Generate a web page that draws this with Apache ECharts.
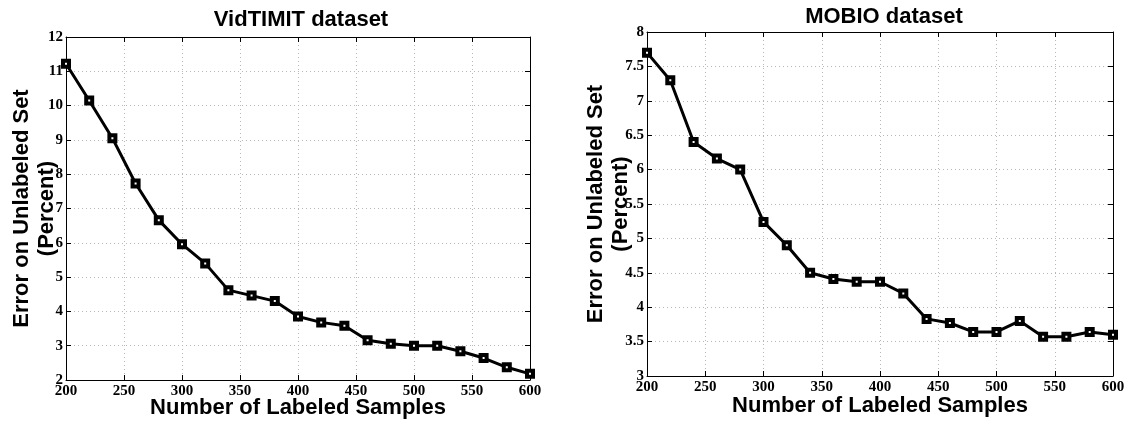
<!DOCTYPE html>
<html>
<head>
<meta charset="utf-8">
<title>Error vs labeled samples</title>
<script src="https://cdn.jsdelivr.net/npm/echarts@6/dist/echarts.min.js"></script>
<style>
  html, body { margin: 0; padding: 0; background: #fff; }
  #main { width: 1128px; height: 423px; }
</style>
</head>
<body>
<div id="main"></div>
<script>
// x values shared by both panels
const labeledSamples = [200, 220, 240, 260, 280, 300, 320, 340, 360, 380, 400,
  420, 440, 460, 480, 500, 520, 540, 560, 580, 600];

// VidTIMIT error (percent)
const vidtimitError = [11.22, 10.15, 9.05, 7.73, 6.66, 5.96, 5.40, 4.62, 4.46, 4.30, 3.85,
  3.68, 3.58, 3.16, 3.06, 3.00, 3.00, 2.84, 2.64, 2.37, 2.18];

// MOBIO error (percent)
const mobioError = [7.70, 7.30, 6.40, 6.16, 6.00, 5.24, 4.90, 4.50, 4.41, 4.37, 4.37,
  4.20, 3.83, 3.77, 3.64, 3.64, 3.80, 3.57, 3.57, 3.64, 3.60];

const titles = ['VidTIMIT dataset', 'MOBIO dataset'];
const xName = 'Number of Labeled Samples';
const yName = 'Error on Unlabeled Set\n(Percent)';

const chart = echarts.init(document.getElementById('main'), null, { renderer: 'canvas' });

const tickFont = {
  fontFamily: 'Liberation Serif',
  fontWeight: 'bold',
  fontSize: 15,
  color: '#000'
};
const nameFont = {
  fontFamily: 'Liberation Sans',
  fontWeight: 'bold',
  fontSize: 22,
  color: '#000'
};
const titleFont = {
  fontFamily: 'Liberation Sans',
  fontWeight: 'bold',
  fontSize: 22,
  color: '#000'
};
const dotted = { show: true, lineStyle: { color: '#b8b8b8', type: [1, 3], width: 1 } };
const blackLine = { show: true, onZero: false, lineStyle: { color: '#000', width: 1 } };
const innerTick = { show: true, inside: true, length: 5, lineStyle: { color: '#000' } };

function pairs(values) {
  return labeledSamples.map(function (x, i) { return [x, values[i]]; });
}

// bottom axis with labels + top axis only for the box / ticks
function xAxes(gridIndex, gap) {
  return [
    {
      type: 'value', gridIndex: gridIndex, position: 'bottom',
      min: 200, max: 600, interval: 50,
      axisLine: blackLine, axisTick: innerTick, splitLine: dotted,
      axisLabel: Object.assign({ margin: 4 }, tickFont),
      name: xName, nameLocation: 'middle', nameGap: gap,
      nameTextStyle: nameFont, nameMoveOverlap: false
    },
    {
      type: 'value', gridIndex: gridIndex, position: 'top',
      min: 200, max: 600, interval: 50,
      axisLine: blackLine, axisTick: innerTick,
      axisLabel: { show: false }, splitLine: { show: false }
    }
  ];
}

function yAxes(gridIndex, min, max, interval, gap) {
  return [
    {
      type: 'value', gridIndex: gridIndex, position: 'left',
      min: min, max: max, interval: interval,
      axisLine: blackLine, axisTick: innerTick, splitLine: dotted,
      axisLabel: Object.assign({ margin: 3 }, tickFont),
      name: yName, nameLocation: 'middle', nameGap: gap, nameRotate: 90,
      nameTextStyle: Object.assign({ lineHeight: 25 }, nameFont),
      nameMoveOverlap: false
    },
    {
      type: 'value', gridIndex: gridIndex, position: 'right',
      min: min, max: max, interval: interval,
      axisLine: blackLine, axisTick: innerTick,
      axisLabel: { show: false }, splitLine: { show: false }
    }
  ];
}

function lineSeries(axisIndex, values) {
  return {
    type: 'line',
    xAxisIndex: axisIndex,
    yAxisIndex: axisIndex,
    data: pairs(values),
    symbol: 'rect',
    symbolSize: 6,
    lineStyle: { color: '#000', width: 3 },
    itemStyle: { color: '#fff', borderColor: '#000', borderWidth: 4 },
    animation: false,
    z: 5
  };
}

const option = {
  backgroundColor: '#fff',
  title: [
    { text: titles[0], left: 296, top: 4, textAlign: 'center', textStyle: titleFont },
    { text: titles[1], left: 879, top: 1, textAlign: 'center', textStyle: titleFont }
  ],
  grid: [
    { left: 66, top: 37, width: 464, height: 343, outerBoundsMode: 'none' },
    { left: 647, top: 32, width: 466, height: 344, outerBoundsMode: 'none' }
  ],
  xAxis: xAxes(0, 17).concat(xAxes(1, 19)),
  yAxis: yAxes(0, 2, 12, 1, 7).concat(yAxes(1, 3, 8, 0.5, 14)),
  series: [
    lineSeries(0, vidtimitError),
    lineSeries(2, mobioError)
  ]
};
chart.setOption(option);
</script>
</body>
</html>
